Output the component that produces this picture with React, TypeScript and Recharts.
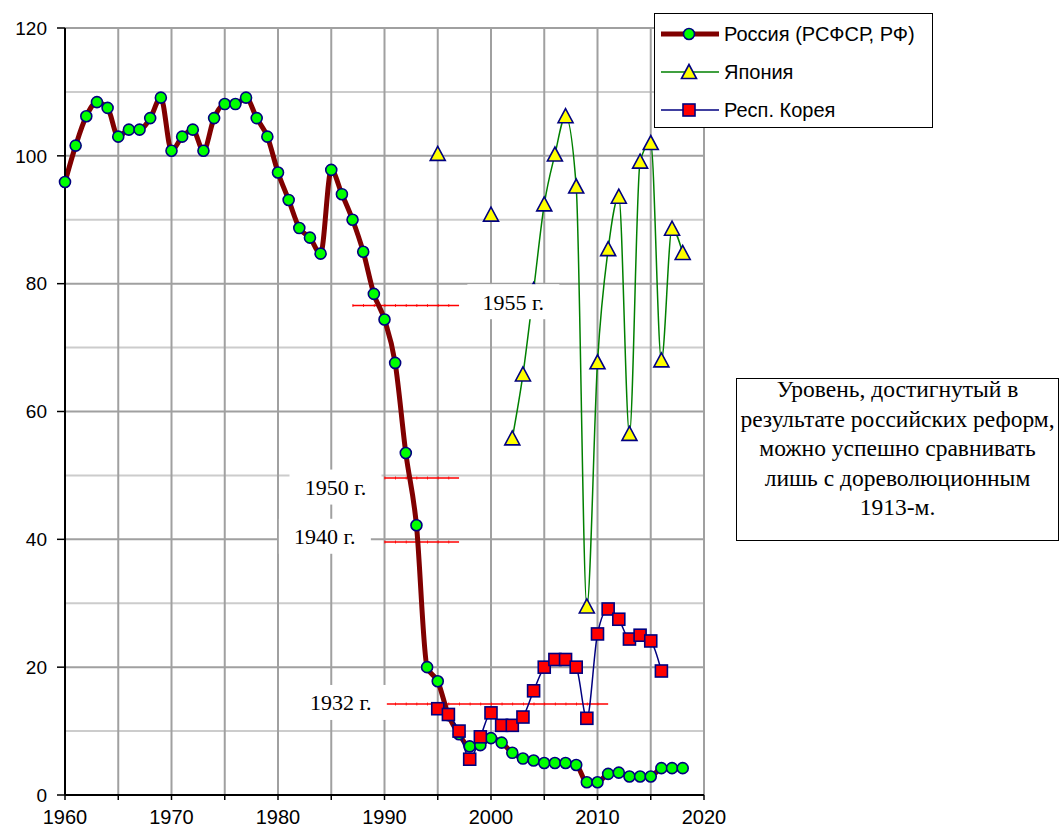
import { ComposedChart, Line, Scatter, XAxis, YAxis, CartesianGrid } from "recharts";

// Russia: one value per year starting from 1960
const RUSSIA_START = 1960;
const russia = [
  95.9, 101.6, 106.2, 108.4, 107.5, 103.0, 104.1, 104.1, 105.9, 109.1,
  100.8, 103.0, 104.1, 100.8, 105.9, 108.1, 108.1, 109.1, 105.9, 103.0,
  97.4, 93.1, 88.7, 87.2, 84.7, 97.8, 94.0, 90.0, 85.0, 78.4,
  74.4, 67.6, 53.5, 42.2, 20.0, 17.8, 12.5, 9.5, 7.6, 7.8,
  8.9, 8.2, 6.6, 5.7, 5.4, 5.0, 5.0, 5.0, 4.7, 2.0,
  2.0, 3.3, 3.5, 2.9, 2.9, 2.9, 4.2, 4.2, 4.2,
];

const japanYears = [1995, 2000, 2002, 2003, 2004, 2005, 2006, 2007, 2008, 2009, 2010, 2011, 2012, 2013, 2014, 2015, 2016, 2017, 2018];
const japan = [100.3, 90.8, 55.8, 65.8, 79.0, 92.4, 100.2, 106.2, 95.2, 29.5, 67.7, 85.4, 93.6, 56.5, 99.1, 102.0, 68.0, 88.6, 84.8];

const koreaYears = [1995, 1996, 1997, 1998, 1999, 2000, 2001, 2002, 2003, 2004, 2005, 2006, 2007, 2008, 2009, 2010, 2011, 2012, 2013, 2014, 2015, 2016];
const korea = [13.5, 12.6, 10.0, 5.6, 9.1, 12.85, 10.9, 10.9, 12.2, 16.3, 20.0, 21.2, 21.2, 20.0, 12.0, 25.2, 29.1, 27.5, 24.4, 25.0, 24.1, 19.4];

// historical levels of the RSFSR
const levelNames = ["1955 г.", "1950 г.", "1940 г.", "1932 г."];
const levelValues = [76.6, 49.6, 39.6, 14.25];
const levelFrom = [1987, 1990, 1990, 1990];
const levelTo = [1997, 1997, 1997, 2011];
const labelYears = [2002.1, 1985.4, 1984.4, 1985.9];
const labelValues = [77.1, 48.1, 40.4, 14.4];

const xTicks = [1960, 1965, 1970, 1975, 1980, 1985, 1990, 1995, 2000, 2005, 2010, 2015, 2020];
const yTicks = [0, 20, 40, 60, 80, 100, 120];
const yMinor = [10, 30, 50, 70, 90, 110];

const NOTE = ["Уровень, достигнутый в", "результате российских реформ,", "можно успешно сравнивать", "лишь с дореволюционным", "1913-м."];

const SERIES = [
  { key: "russia", name: "Россия (РСФСР, РФ)", color: "#800000", width: 5, marker: "circle" },
  { key: "japan", name: "Япония", color: "#008000", width: 1.5, marker: "triangle" },
  { key: "korea", name: "Респ. Корея", color: "#000080", width: 1.5, marker: "square" },
];

const byYear: Record<number, any> = {};
const row = (y: number) => (byYear[y] = byYear[y] || { year: y });
russia.forEach((v, i) => (row(RUSSIA_START + i).russia = v));
japanYears.forEach((y, i) => (row(y).japan = japan[i]));
koreaYears.forEach((y, i) => (row(y).korea = korea[i]));
const data = Object.values(byYear).sort((a, b) => a.year - b.year);

const levels = levelNames.map((name, i) => ({
  name,
  points: [
    { year: levelFrom[i], value: levelValues[i] },
    { year: levelTo[i], value: levelValues[i] },
  ],
}));
const labels = levelNames.map((label, i) => ({ year: labelYears[i], value: labelValues[i], label }));

function Marker({ type, cx, cy }: { type: string; cx: number; cy: number }) {
  if (type === "circle")
    return <circle cx={cx} cy={cy} r={5.5} fill="#00ff00" stroke="#000080" strokeWidth={1.6} />;
  if (type === "triangle")
    return (
      <polygon
        points={`${cx},${cy - 7.5} ${cx - 7.5},${cy + 6.5} ${cx + 7.5},${cy + 6.5}`}
        fill="#ffff00"
        stroke="#000080"
        strokeWidth={1.6}
      />
    );
  return <rect x={cx - 6} y={cy - 6} width={12} height={12} fill="#ff0000" stroke="#000080" strokeWidth={1.6} />;
}

const dotFor = (type: string) => (p: any) => {
  if (p.cx == null || p.cy == null || p.value == null) return <g key={p.key} />;
  return <Marker key={p.key} type={type} cx={p.cx} cy={p.cy} />;
};

const LabelBox = (p: any) => (
  <g>
    <rect x={p.cx - 46} y={p.cy - 18} width={92} height={35} fill="#fff" />
    <text
      x={p.cx}
      y={p.cy}
      textAnchor="middle"
      dominantBaseline="central"
      fontFamily="'Liberation Serif', 'Times New Roman', serif"
      fontSize={22}
      fill="#000"
    >
      {p.payload.label}
    </text>
  </g>
);

const tickStyle = { fontSize: 20, fill: "#000", fontFamily: "'Liberation Sans', Arial, sans-serif" };

export default function App() {
  return (
    <div style={{ position: "absolute", left: 0, top: 0, width: 1061, height: 830, background: "#fff" }}>
      <ComposedChart width={1061} height={830} data={data} margin={{ top: 28, right: 357, bottom: 0, left: 0 }}>
        <CartesianGrid horizontalValues={yMinor} vertical={false} stroke="#cccccc" strokeWidth={2} />
        <CartesianGrid horizontalValues={yTicks} verticalValues={xTicks} stroke="#a0a0a0" strokeWidth={2} />
        <XAxis
          dataKey="year"
          type="number"
          domain={[1960, 2020]}
          ticks={xTicks}
          tickFormatter={(v) => (v % 10 === 0 ? String(v) : "")}
          tick={tickStyle}
          tickSize={5}
          tickMargin={10}
          axisLine={{ stroke: "#000", strokeWidth: 2 }}
          tickLine={{ stroke: "#000", strokeWidth: 1.5 }}
          height={35}
          interval={0}
        />
        <YAxis
          type="number"
          domain={[0, 120]}
          ticks={yTicks}
          tick={{ ...tickStyle, fontSize: 19 }}
          tickSize={8}
          tickMargin={10}
          axisLine={{ stroke: "#000", strokeWidth: 2 }}
          tickLine={{ stroke: "#000", strokeWidth: 1.5 }}
          width={65}
          interval={0}
        />
        {levels.map((l) => (
          <Line
            key={l.name}
            data={l.points}
            dataKey="value"
            stroke="#ff0000"
            strokeWidth={1.5}
            dot={false}
            activeDot={false}
            isAnimationActive={false}
            legendType="none"
          />
        ))}
        {levels.map((l) => (
          <Line
            key={l.name + "-ticks"}
            data={l.points}
            dataKey="value"
            stroke="#ff0000"
            strokeWidth={3}
            strokeDasharray="0.8 9.85"
            dot={false}
            activeDot={false}
            isAnimationActive={false}
            legendType="none"
          />
        ))}
        {SERIES.map((s) => (
          <Line
            key={s.key}
            dataKey={s.key}
            name={s.name}
            type="monotone"
            stroke={s.color}
            strokeWidth={s.width}
            dot={dotFor(s.marker)}
            activeDot={false}
            isAnimationActive={false}
          />
        ))}
        <Scatter data={labels} dataKey="value" shape={LabelBox} isAnimationActive={false} legendType="none" />
      </ComposedChart>

      <div
        style={{
          position: "absolute",
          left: 654,
          top: 13,
          width: 279,
          height: 115,
          boxSizing: "border-box",
          border: "1.5px solid #000",
          background: "#fff",
          fontFamily: "'Liberation Sans', Arial, sans-serif",
          fontSize: 20,
        }}
      >
        {SERIES.map((s, i) => (
          <div key={s.key} style={{ position: "absolute", left: 0, top: 2 + i * 38, height: 36, display: "flex", alignItems: "center" }}>
            <svg width={66} height={36} style={{ display: "block" }}>
              <line x1={6} y1={18} x2={64} y2={18} stroke={s.color} strokeWidth={s.width} />
              <Marker type={s.marker} cx={34} cy={18} />
            </svg>
            <span style={{ marginLeft: 3, whiteSpace: "nowrap" }}>{s.name}</span>
          </div>
        ))}
      </div>

      <div
        style={{
          position: "absolute",
          left: 736,
          top: 378,
          width: 323,
          height: 163,
          boxSizing: "border-box",
          border: "1.5px solid #000",
          background: "#fff",
          fontFamily: "'Liberation Serif', 'Times New Roman', serif",
          fontSize: 23.5,
          lineHeight: "29.5px",
          textAlign: "center",
          paddingTop: 0,
        }}
      >
        <div style={{ marginTop: -4 }}>
          {NOTE.map((t) => (
            <div key={t} style={{ whiteSpace: "nowrap" }}>{t}</div>
          ))}
        </div>
      </div>
    </div>
  );
}
